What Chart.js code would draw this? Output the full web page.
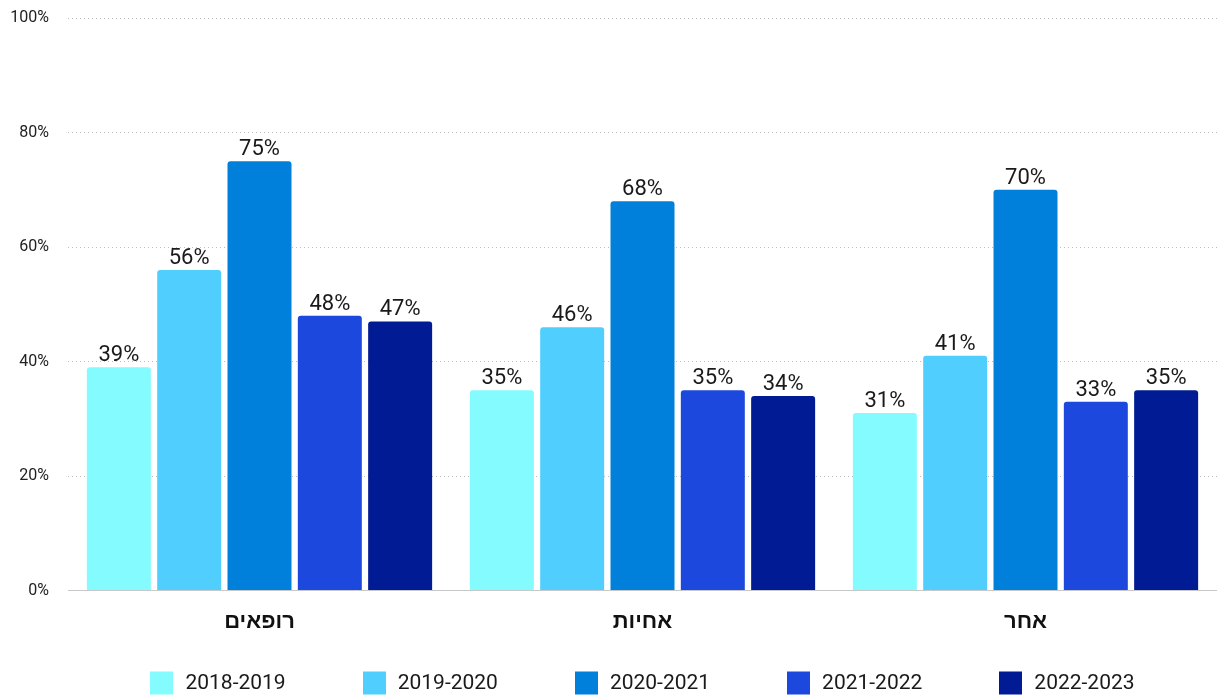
<!DOCTYPE html>
<html>
<head>
<meta charset="utf-8">
<script src="https://cdn.jsdelivr.net/npm/chart.js@4/dist/chart.umd.min.js"></script>
<style>
  html, body { margin: 0; padding: 0; background: #fff; }
  #wrap { width: 1217px; height: 699px; position: relative; }
</style>
</head>
<body>
<div id="wrap"><canvas id="c" width="1217" height="699"></canvas></div>
<script>
// Staff groups and school years
const categories = ['רופאים', 'אחיות', 'אחר'];
const seriesNames = ['2018-2019', '2019-2020', '2020-2021', '2021-2022', '2022-2023'];

// Percent values per school year, in category order
const y2018_2019 = [39, 35, 31];
const y2019_2020 = [56, 46, 41];
const y2020_2021 = [75, 68, 70];
const y2021_2022 = [48, 35, 33];
const y2022_2023 = [47, 34, 35];

const seriesColors = ['#84FCFF', '#50CFFF', '#0080DB', '#1C48DE', '#001B93'];
const yTicks = [0, 20, 40, 60, 80, 100];

const seriesValues = [y2018_2019, y2019_2020, y2020_2021, y2021_2022, y2022_2023];

const FONT = "Roboto, 'Liberation Sans', 'DejaVu Sans', sans-serif";

// Draws the percentage above each bar
const valueLabels = {
  id: 'valueLabels',
  afterDatasetsDraw(chart) {
    const ctx = chart.ctx;
    ctx.save();
    ctx.font = '22px ' + FONT;
    ctx.fillStyle = '#1a1a1a';
    ctx.textAlign = 'center';
    ctx.textBaseline = 'alphabetic';
    chart.data.datasets.forEach((ds, i) => {
      const meta = chart.getDatasetMeta(i);
      meta.data.forEach((bar, j) => {
        ctx.fillText(ds.data[j] + '%', bar.x, bar.y - 6);
      });
    });
    ctx.restore();
  }
};

// Bottom legend: square swatch + series name, row centred under the plot
const bottomLegend = {
  id: 'bottomLegend',
  afterDraw(chart) {
    const ctx = chart.ctx;
    const box = 23, gapText = 12, gapItem = 77;
    ctx.save();
    ctx.font = '21px ' + FONT;
    ctx.textBaseline = 'middle';
    ctx.textAlign = 'left';
    const items = chart.data.datasets.map(ds => ({
      label: ds.label, color: ds.backgroundColor,
      w: box + gapText + ctx.measureText(ds.label).width
    }));
    const total = items.reduce((s, it) => s + it.w, 0) + gapItem * (items.length - 1);
    const area = chart.chartArea;
    let x = (area.left + area.right) / 2 - total / 2;
    const cy = 683;
    items.forEach(it => {
      ctx.fillStyle = it.color;
      ctx.fillRect(Math.round(x), cy - box / 2, box, box);
      ctx.fillStyle = '#1a1a1a';
      ctx.fillText(it.label, x + box + gapText, cy + 1);
      x += it.w + gapItem;
    });
    ctx.restore();
  }
};

new Chart(document.getElementById('c'), {
  type: 'bar',
  data: {
    labels: categories,
    datasets: seriesNames.map((name, i) => ({
      label: name,
      data: seriesValues[i],
      backgroundColor: seriesColors[i],
      borderRadius: { topLeft: 3, topRight: 3 },
      borderSkipped: 'bottom',
      categoryPercentage: 0.918,
      barPercentage: 0.91
    }))
  },
  options: {
    responsive: false,
    animation: false,
    devicePixelRatio: 1,
    layout: { padding: { left: 10, right: 0, top: 0, bottom: 52 } },
    plugins: {
      legend: { display: false },
      tooltip: { enabled: false }
    },
    scales: {
      x: {
        grid: { display: false },
        border: { display: true, color: '#c8c8c8', width: 1 },
        ticks: {
          color: '#111',
          padding: 11,
          font: { family: FONT, size: 22, weight: 'bold' }
        }
      },
      y: {
        min: 0,
        max: 100,
        afterBuildTicks(axis) {
          axis.ticks = yTicks.map(v => ({ value: v }));
        },
        afterFit(axis) {
          axis.width = 58;
          axis.paddingTop = 18;
          axis.paddingBottom = 0;
        },
        border: { display: false, dash: [1, 3] },
        grid: {
          color: (c) => c.tick && c.tick.value === 0 ? '#c8c8c8' : '#bdbdbd',
          drawTicks: false
        },
        ticks: {
          color: '#222',
          padding: 19,
          font: { family: FONT, size: 16 },
          callback: (v) => v + '%'
        }
      }
    }
  },
  plugins: [valueLabels, bottomLegend]
});
</script>
</body>
</html>
